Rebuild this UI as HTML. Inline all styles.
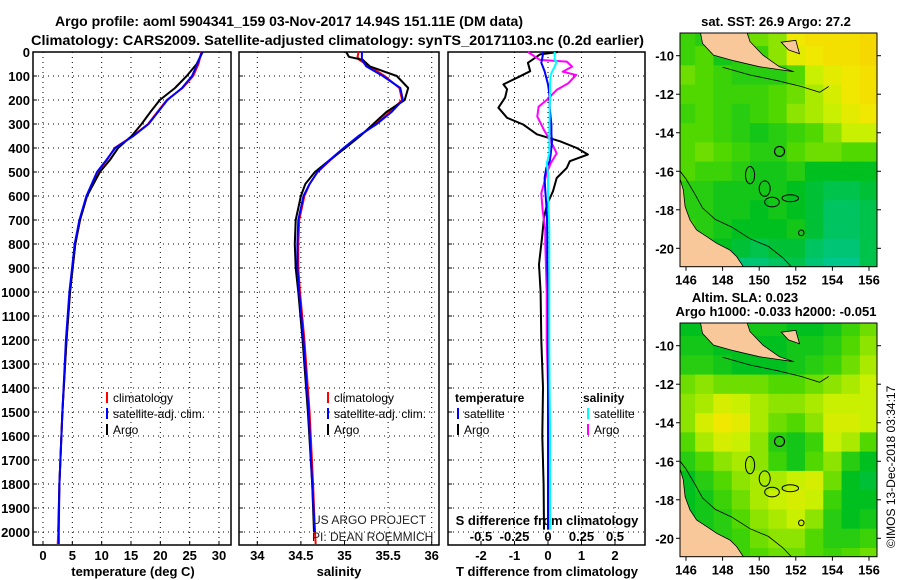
<!DOCTYPE html>
<html><head><meta charset="utf-8"><style>
html,body{margin:0;padding:0;background:#fff;}
svg{display:block;font-family:"Liberation Sans",Arial,sans-serif;}
.b{font-weight:bold;}
</style></head><body>
<svg id="c" width="900" height="580" viewBox="0 0 900 580" xmlns="http://www.w3.org/2000/svg"></svg>
<script>
// ---- profile data ----
const depthT = [0,50,100,150,200,250,300,350,400,450,500,600,700,800,1000,1200,1500,1800,2000];
const tempArgo = [27.2,26.2,24.5,22.5,19.9,18.3,16.8,15.1,12.8,11.4,9.7,7.5,6.3,5.5,4.6,4.0,3.3,2.8,2.6];
const depthTC = [0,50,100,150,200,250,300,350,400,450,500,600,700,800,1000,1200,1500,1800,2000,2050];
const tempClim = [27.0,26.5,25.6,23.8,21.1,19.5,17.9,15.3,12.2,10.9,9.3,7.5,6.3,5.5,4.6,4.0,3.3,2.8,2.6,2.5];
const tempSat = [27.1,26.3,25.4,23.7,21.2,19.6,18.0,15.4,12.3,10.8,9.2,7.4,6.2,5.4,4.5,3.9,3.3,2.8,2.7,2.7];
const depthS = [0,20,33,60,100,150,200,250,300,350,400,450,500,550,600,700,800,900,1000,1200,1500,1800,2000];
const salArgo = [35.02,35.05,35.21,35.29,35.60,35.73,35.69,35.48,35.33,35.18,35.01,34.83,34.66,34.55,34.50,34.44,34.43,34.44,34.47,34.52,34.58,34.63,34.65];
const salSat = [35.20,35.20,35.20,35.25,35.44,35.64,35.67,35.54,35.37,35.16,34.99,34.83,34.69,34.60,34.53,34.47,34.46,34.46,34.48,34.53,34.59,34.63,34.66];
const depthSC = [0,20,33,60,100,150,200,250,300,350,400,450,500,550,600,700,800,900,1000,1200,1500,1800,2000,2050];
const salClim = [35.16,35.15,35.17,35.29,35.46,35.63,35.66,35.52,35.36,35.17,35.00,34.84,34.69,34.60,34.54,34.48,34.47,34.47,34.49,34.54,34.60,34.64,34.66,34.67];
const depthDT = [0,10,45,80,107,135,155,190,232,274,302,343,372,400,427,455,483,525,580,635,690,774,885,1000,1200,1400,1600,1800,1990];
const dTArgo = [0.3,-0.24,-0.6,-0.53,-0.92,-1.33,-1.22,-1.28,-1.48,-1.22,-0.74,-0.33,0.36,0.86,1.19,0.65,0.56,0.26,0.15,-0.03,-0.12,-0.18,-0.27,-0.22,-0.2,-0.15,-0.17,-0.13,-0.12];
const dTSat = [-0.15,-0.15,-0.2,-0.1,-0.05,0,0.02,0.05,0.05,0.08,0.1,0.1,0.12,0.1,0.08,0.05,-0.05,-0.1,-0.08,-0.05,-0.03,-0.02,-0.02,0,0,0,0,0,0];
const depthDS = [0,33,40,61,82,96,131,158,200,228,269,325,367,394,422,464,506,589,658,742,797,1000,1200,1400,1550,1700,1990];
const dSArgo = [-0.15,-0.06,0.14,0.18,0.11,0.21,0.15,0.065,-0.01,-0.07,-0.08,-0.03,0.015,0.04,0.065,0.02,-0.01,-0.05,-0.04,-0.02,-0.02,-0.01,-0.01,0,0.01,0,0];
const dSSat = [0.05,0.05,0.065,0.05,0.03,0.02,0.015,0.015,0.015,0.012,0.012,0.01,0.01,0.01,0.01,-0.01,0,0,0.005,0.01,0.01,0.01,0.01,0.012,0.015,0.015,0.015];
// ---- ticks ----
const depthTicks = [0,100,200,300,400,500,600,700,800,900,1000,1100,1200,1300,1400,1500,1600,1700,1800,1900,2000];
const tempTicks = [0,5,10,15,20,25,30];
const salTicks = [34,34.5,35,35.5,36];
const dTTicks = [-2,-1,0,1,2];
const dSTicks = [-0.5,-0.25,0,0.25,0.5];
const dSTickLabels = ["-0.5","-0.25","0","0.25","0.5"];
const lonTicks = [146,148,150,152,154,156];
const latTicks = [-10,-12,-14,-16,-18,-20];
// ---- map grids (rows lat -9..-21, cols lon 146..156), colour index 0..1 ----
const sstGrid = [
[.45,.4,.45,.5,.55,.6,.85,.9,.9,.9,.95],
[.45,.5,.35,.4,.45,.6,.8,.85,.9,.9,.95],
[.55,.5,.45,.4,.4,.4,.5,.7,.8,.85,.9],
[.5,.5,.45,.45,.45,.5,.55,.65,.75,.85,.9],
[.45,.5,.45,.4,.45,.5,.6,.65,.7,.8,.85],
[.5,.5,.45,.4,.35,.4,.45,.5,.6,.7,.7],
[.5,.55,.5,.45,.4,.4,.5,.55,.55,.5,.5],
[.5,.45,.45,.4,.35,.35,.4,.3,.3,.3,.3],
[.4,.4,.35,.35,.35,.35,.3,.25,.2,.2,.25],
[.4,.4,.35,.35,.3,.35,.3,.25,.15,.15,.2],
[.45,.4,.35,.3,.3,.3,.35,.25,.15,.15,.2],
[.4,.35,.3,.25,.2,.25,.25,.15,.1,.1,.2],
[.4,.3,.2,.1,.1,.15,.2,.1,.05,.05,.2]];
const slaGrid = [
[.3,.3,.3,.35,.35,.35,.3,.3,.35,.45,.55],
[.35,.35,.3,.3,.3,.3,.35,.35,.4,.5,.6],
[.4,.4,.35,.3,.3,.3,.35,.4,.45,.55,.65],
[.55,.6,.55,.55,.55,.5,.5,.55,.6,.65,.7],
[.6,.65,.75,.7,.65,.6,.6,.65,.7,.7,.7],
[.6,.75,.85,.8,.65,.55,.5,.6,.75,.75,.7],
[.5,.65,.75,.7,.6,.4,.35,.45,.7,.65,.5],
[.4,.5,.6,.65,.6,.45,.35,.5,.6,.4,.3],
[.3,.4,.5,.6,.65,.65,.7,.75,.55,.3,.25],
[.3,.35,.45,.55,.65,.7,.75,.7,.45,.3,.3],
[.3,.35,.4,.5,.6,.65,.7,.6,.4,.3,.35],
[.3,.35,.4,.45,.55,.6,.6,.5,.4,.4,.45],
[.3,.35,.4,.45,.5,.55,.55,.5,.45,.5,.55]];

const NS="http://www.w3.org/2000/svg";
const svg=document.getElementById('c');
function mk(tag,attrs,parent){const e=document.createElementNS(NS,tag);for(const k in attrs)e.setAttribute(k,attrs[k]);(parent||svg).appendChild(e);return e;}
function txt(s,x,y,attrs,parent){const t=mk('text',Object.assign({x:x,y:y,'font-size':13},attrs||{}),parent);t.textContent=s;return t;}

// axis functions
const yD=d=>52+d*0.24;
const xT=t=>43+t*5.867;
const xS=s=>257.3+(s-34)*87.2;
const xDT=v=>548+v*33.5;
const xDS=v=>548+v*134;

// titles
let t=txt('Argo profile: aoml 5904341_159 03-Nov-2017 14.94S 151.11E (DM data)',55,26,{class:'b','font-size':14,textLength:468,lengthAdjust:'spacingAndGlyphs'});


t=txt('Climatology: CARS2009. Satellite-adjusted climatology: synTS_20171103.nc (0.2d earlier)',31,45,{class:'b','font-size':14,textLength:613,lengthAdjust:'spacingAndGlyphs'});



const panels=[{x0:33,x1:231,name:'temperature-panel'},{x0:239,x1:439,name:'salinity-panel'},{x0:448,x1:645,name:'difference-panel'}];
const pTop=52,pBot=545;
const gridX=[tempTicks.map(xT),salTicks.map(xS),dTTicks.map(xDT)];
panels.forEach((p,i)=>{
  const g=mk('g',{});
  
  
  depthTicks.forEach(d=>{mk('line',{x1:p.x0,x2:p.x1,y1:yD(d),y2:yD(d),stroke:'#000','stroke-width':1,'stroke-dasharray':'1,4'},g);
    mk('line',{x1:p.x0,x2:p.x0+4,y1:yD(d),y2:yD(d),stroke:'#000'},g);});
  gridX[i].forEach(x=>{mk('line',{x1:x,x2:x,y1:pTop,y2:pBot,stroke:'#000','stroke-width':1,'stroke-dasharray':'1,4'},g);
    mk('line',{x1:x,x2:x,y1:pBot,y2:pBot-4,stroke:'#000'},g);});
  const r=mk('rect',{x:p.x0,y:pTop,width:p.x1-p.x0,height:pBot-pTop,fill:'none',stroke:'#000','stroke-width':1.5},g);
  
  
});
// depth labels
depthTicks.forEach(d=>{const e=txt(String(d),30,yD(d)+5,{class:'b','text-anchor':'end'});
  
  });
tempTicks.forEach(v=>{const e=txt(String(v),xT(v),560,{class:'b','text-anchor':'middle'});
  
  });
salTicks.forEach(v=>{const e=txt(String(v),xS(v),560,{class:'b','text-anchor':'middle'});
  
  });
dTTicks.forEach(v=>{const e=txt(String(v),xDT(v),560,{class:'b','text-anchor':'middle'});
  
  });
dSTicks.forEach((v,i)=>{const e=txt(dSTickLabels[i],xDS(v),541,{class:'b','text-anchor':'middle'});
  
  });
t=txt('temperature (deg C)',133,576,{class:'b','text-anchor':'middle'});


t=txt('salinity',339,576,{class:'b','text-anchor':'middle'});


t=txt('T difference from climatology',547,576,{class:'b','text-anchor':'middle'});


t=txt('S difference from climatology',547,525,{class:'b','text-anchor':'middle'});



function line(xs,ds,fx,col,name,w){
  const pts=xs.map((v,i)=>fx(v).toFixed(1)+','+yD(ds[i]).toFixed(1)).join(' ');
  const e=mk('polyline',{points:pts,fill:'none',stroke:col,'stroke-width':w||2,'stroke-linejoin':'round'});
  
  
}
line(tempClim,depthTC,xT,'#f00','temperature-climatology-line');
line(tempArgo,depthT,xT,'#000','temperature-argo-line');
line(tempSat,depthTC,xT,'#00f','temperature-satellite-line');
line(salClim,depthSC,xS,'#f00','salinity-climatology-line');
line(salArgo,depthS,xS,'#000','salinity-argo-line');
line(salSat,depthS,xS,'#00f','salinity-satellite-line');
line(dTArgo,depthDT,xDT,'#000','tdiff-argo-line');
line(dSArgo,depthDS,xDS,'#f0f','sdiff-argo-line');
line(dTSat,depthDT,xDT,'#00f','tdiff-satellite-line');
line(dSSat,depthDS,xDS,'#0ff','sdiff-satellite-line');

// legends
function legEntry(x,y,col,label,name){
  const g=mk('g',{});
  
  
  mk('line',{x1:x,x2:x,y1:y-10,y2:y+1,stroke:col,'stroke-width':2},g);
  txt(label,x+6,y,{'font-size':12},g);
}
legEntry(107,402,'#f00','climatology','legend-entry-climatology');
legEntry(107,418,'#00f','satellite-adj. clim.','legend-entry-satellite');
legEntry(107,434,'#000','Argo','legend-entry-argo');
legEntry(328,402,'#f00','climatology','legend-entry-climatology');
legEntry(328,418,'#00f','satellite-adj. clim.','legend-entry-satellite');
legEntry(328,434,'#000','Argo','legend-entry-argo');
t=txt('temperature',455,402,{'font-size':12,class:'b'});


t=txt('salinity',583,402,{'font-size':12,class:'b'});


legEntry(458,418,'#00f','satellite','legend-entry-t-satellite');
legEntry(458,434,'#000','Argo','legend-entry-t-argo');
legEntry(588,418,'#0ff','satellite','legend-entry-s-satellite');
legEntry(588,434,'#f0f','Argo','legend-entry-s-argo');
t=txt('US ARGO PROJECT',312,524,{'font-size':12,fill:'#222'});


t=txt('PI: DEAN ROEMMICH',312,541,{'font-size':12,fill:'#222'});



// ---- maps ----
const stops=[[0,[0,200,160]],[0.3,[0,192,32]],[0.5,[80,216,0]],[0.7,[200,240,0]],[0.85,[240,232,0]],[1,[248,208,0]]];
function cmap(v){for(let i=1;i<stops.length;i++){if(v<=stops[i][0]){const a=stops[i-1],b=stops[i],f=(v-a[0])/(b[0]-a[0]);
  return 'rgb('+a[1].map((c,k)=>Math.round(c+(b[1][k]-c)*f)).join(',')+')';}}return 'rgb(248,208,0)';}
const landNW=[[146.77,-8.7],[149.3,-8.7],[149.5,-9.27],[150.2,-9.97],[151.1,-10.57],[151.9,-10.83],[150.0,-10.57],[148.6,-10.26],[147.5,-9.97],[146.9,-9.36]];
const landSW=[[145.5,-16.28],[145.64,-16.28],[145.85,-16.97],[145.95,-17.84],[146.22,-18.53],[146.58,-19.05],[147.13,-19.39],[147.68,-19.74],[148.4,-20.09],[148.77,-20.43],[149.3,-21.2],[145.5,-21.2]];
const landNE=[[151.2,-9.3],[152.0,-9.2],[152.2,-9.9],[151.6,-9.7]];
const isobath=[[145.6,-15.9],[146.0,-16.4],[146.5,-17.2],[146.9,-17.9],[147.6,-18.5],[148.5,-18.9],[149.5,-19.5],[150.5,-19.9],[151.3,-20.5],[152.0,-21.2]];
const isobathN=[[148.0,-10.6],[149.5,-11.0],[151.0,-11.3],[152.3,-11.6],[153.3,-11.9],[153.8,-11.6]];
const reefs=[[149.5,-16.2,0.25,0.45],[150.3,-16.9,0.3,0.4],[150.7,-17.6,0.4,0.25],[151.7,-17.4,0.45,0.18],[152.3,-19.2,0.15,0.15]];
function drawMap(grid,yoff,name,title1,title2){
  const lonX=l=>686+(l-146)*18.3, latY=la=>55.7+yoff+(-10-la)*19.26;
  const x0=680,x1=877,y0=33+yoff,y1=266.7+yoff;
  const g=mk('g',{});
  
  
  const cid='clip'+yoff;
  const cp=mk('clipPath',{id:cid},g);mk('rect',{x:x0,y:y0,width:x1-x0,height:y1-y0},cp);
  const gc=mk('g',{'clip-path':'url(#'+cid+')'},g);
  grid.forEach((row,j)=>row.forEach((v,i)=>{
    const c=mk('rect',{x:lonX(146+i-0.5),y:latY(-9-j+0.5),width:18.3+0.6,height:19.26+0.6,fill:cmap(v)},gc);
    
    
  }));
  const poly=(pts,attrs)=>mk('polygon',Object.assign({points:pts.map(p=>lonX(p[0]).toFixed(1)+','+latY(p[1]).toFixed(1)).join(' ')},attrs),gc);
  const pl=(pts)=>mk('polyline',{points:pts.map(p=>lonX(p[0]).toFixed(1)+','+latY(p[1]).toFixed(1)).join(' '),fill:'none',stroke:'#000','stroke-width':0.8},gc);
  [landNW,landSW,landNE].forEach(L=>{const e=poly(L,{fill:'#f9c89a',stroke:'#000','stroke-width':0.8});
    
    });
  pl(isobath);pl(isobathN);
  reefs.forEach(r=>mk('ellipse',{cx:lonX(r[0]),cy:latY(r[1]),rx:r[2]*18.3,ry:r[3]*19.26,fill:'none',stroke:'#000','stroke-width':1},gc));
  const m=mk('circle',{cx:lonX(151.11),cy:latY(-14.97),r:5,fill:'none',stroke:'#000','stroke-width':1.2},g);
  
  
  mk('rect',{x:x0,y:y0,width:x1-x0,height:y1-y0,fill:'none',stroke:'#000','stroke-width':1},g);
  latTicks.forEach(la=>{mk('line',{x1:x0-4,x2:x0,y1:latY(la),y2:latY(la),stroke:'#000'},g);
    mk('line',{x1:x1,x2:x1+4,y1:latY(la),y2:latY(la),stroke:'#000'},g);
    const e=txt(String(la),674,latY(la)+5,{class:'b','text-anchor':'end'},g);
    
    });
  lonTicks.forEach(lo=>{mk('line',{x1:lonX(lo),x2:lonX(lo),y1:y1,y2:y1+4,stroke:'#000'},g);
    const e=txt(String(lo),lonX(lo),y1+18,{class:'b','text-anchor':'middle'},g);
    
    });
  if(title2){
    let a=txt(title1,745,302,{class:'b','text-anchor':'middle'},g);
    
    
    a=txt(title2,776,316,{class:'b','text-anchor':'middle'},g);
    
    
  } else {
    const a=txt(title1,776,26,{class:'b','text-anchor':'middle'},g);
    
    
  }
}
drawMap(sstGrid,0,'sst-map','sat. SST: 26.9 Argo: 27.2',null);
drawMap(slaGrid,290,'sla-map','Altim. SLA: 0.023','Argo h1000: -0.033 h2000: -0.051');
t=txt('©IMOS 13-Dec-2018 03:34:17',0,0,{'font-size':12,transform:'translate(895,548) rotate(-90)'});


</script>
</body></html>
